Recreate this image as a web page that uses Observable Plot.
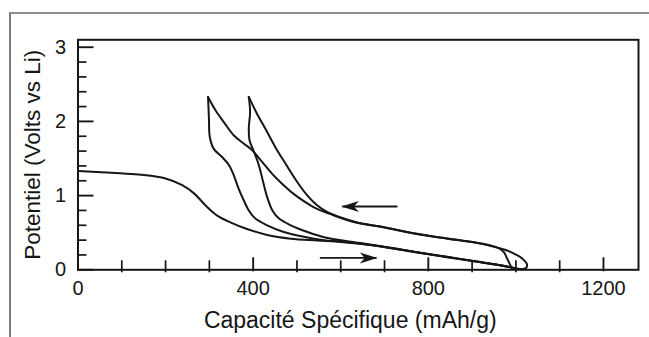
<!DOCTYPE html>
<html>
<head>
<meta charset="utf-8">
<script src="https://cdn.jsdelivr.net/npm/d3@7"></script>
<script src="https://cdn.jsdelivr.net/npm/@observablehq/plot@0.6"></script>
<style>
  html, body { margin: 0; padding: 0; background: #fff; }
  #fig { position: relative; width: 649px; height: 337px; overflow: hidden; background: #fff; }
  #cadre { position: absolute; left: 9px; top: 12px; width: 660px; height: 340px;
           border-left: 2px solid #7c7c7c; border-top: 2px solid #8e8e8e; }
  #fig svg { position: absolute; left: 0; top: 0; }
</style>
</head>
<body>
<div id="fig"><div id="cadre"></div></div>
<script>
// Cycles galvanostatiques : capacité spécifique (mAh/g) et potentiel (V vs Li)
const decharge1 = [[0,1.33],[97,1.30],[145,1.28],[200,1.23],[238,1.14],[265,1.03],[291,0.87],[318,0.73],
  [348,0.64],[386,0.55],[432,0.47],[486,0.42],[546,0.395],[600,0.375],[645,0.35],[706,0.30],[767,0.24],
  [843,0.17],[920,0.10],[965,0.058],[990,0.03],[1012,0.008]];
const charge1 = [[1012,0.008],[1024,0.03],[1025,0.08],[1015,0.15],[1000,0.205],[980,0.26],[962,0.29],
  [942,0.325],[904,0.37],[843,0.42],[767,0.49],[691,0.58],[640,0.63],[600,0.70],[577,0.75],[546,0.82],
  [520,0.91],[493,1.02],[466,1.16],[444,1.29],[421,1.45],[398,1.61],[379,1.70],[356,1.81],[333,1.99],
  [314,2.15],[297,2.33]];
const decharge2 = [[297,2.33],[299,2.04],[301,1.79],[310,1.63],[329,1.52],[345,1.41],[356,1.27],[367,1.09],
  [379,0.93],[390,0.80],[405,0.69],[432,0.60],[470,0.51],[516,0.445],[562,0.40],[600,0.38],[645,0.352],
  [706,0.302],[767,0.243],[843,0.172],[920,0.102],[965,0.06],[990,0.032]];
const charge2 = [[990,0.032],[985,0.09],[980,0.15],[973,0.235],[962,0.29],[942,0.328],[904,0.372],
  [843,0.423],[767,0.492],[691,0.583],[640,0.635],[600,0.705],[569,0.78],[546,0.87],[524,1.0],[501,1.18],
  [474,1.43],[451,1.65],[428,1.9],[409,2.10],[390,2.33]];
const decharge3 = [[390,2.33],[393,2.13],[390,1.9],[392,1.74],[402,1.59],[413,1.41],[423,1.18],[432,0.98],
  [444,0.80],[459,0.69],[486,0.60],[524,0.51],[562,0.44],[600,0.40],[645,0.36],[706,0.305],[767,0.245],
  [843,0.175],[920,0.105],[965,0.06],[1000,0.02]];

// Flèches indiquant le sens de la charge (←) et de la décharge (→)
const flecheCharge = [[728,0.853],[605,0.853]];
const flecheDecharge = [[554,0.16],[680,0.16]];

// Graduations
const xMajeures = [0, 400, 800, 1200];
const xMineures = [100, 200, 300, 500, 600, 700, 900, 1000, 1100];
const yMajeures = [0, 1, 2, 3];
const yMineures = [0.2, 0.4, 0.6, 0.8, 1.2, 1.4, 1.6, 1.8, 2.2, 2.4, 2.6, 2.8];

const titreX = "Capacité Spécifique (mAh/g)";
const titreY = "Potentiel (Volts vs Li)";

const courbes = [
  {serie: "décharge 1", points: decharge1},
  {serie: "charge 1", points: charge1},
  {serie: "décharge 2", points: decharge2},
  {serie: "charge 2", points: charge2},
  {serie: "décharge 3", points: decharge3}
];
const table = courbes.flatMap(c => c.points.map(([cap, pot]) => ({serie: c.serie, cap, pot})));

const W = 649, H = 337;
const mL = 77.5, mR = 11, mT = 39.3, mB = 67.7;
const largeur = W - mL - mR, hauteur = H - mT - mB;
const encre = "#161616";

// Pointe de flèche pleine, à dos creusé
function pointe(color) {
  const m = d3.create("svg:marker")
    .attr("viewBox", "-18 -8 20 16")
    .attr("markerWidth", 20).attr("markerHeight", 16)
    .attr("markerUnits", "userSpaceOnUse")
    .attr("refX", 0).attr("refY", 0)
    .attr("orient", "auto");
  m.append("path")
    .attr("d", "M1.5,0 L-16,-5.5 L-11,0 L-16,5.5 Z")
    .attr("fill", encre).attr("stroke", "none");
  return m.node();
}

const chart = Plot.plot({
  width: W, height: H,
  marginLeft: mL, marginRight: mR, marginTop: mT, marginBottom: mB,
  style: {fontFamily: "'Liberation Sans', Arial, Helvetica, sans-serif", color: encre, background: "transparent"},
  x: {domain: [0, 1280]},
  y: {domain: [0, 3.1]},
  marks: [
    Plot.frame({stroke: encre, strokeWidth: 2}),
    Plot.tickX(xMineures, {x: d => d, insetTop: hauteur - 9, insetBottom: -3, stroke: encre, strokeWidth: 1.7}),
    Plot.tickX(xMajeures.filter(d => d > 0), {x: d => d, insetTop: hauteur - 12, insetBottom: -2, stroke: encre, strokeWidth: 1.9}),
    Plot.tickY(yMineures, {y: d => d, insetRight: largeur - 9, stroke: encre, strokeWidth: 1.7}),
    Plot.tickY(yMajeures, {y: d => d, insetRight: largeur - 16, stroke: encre, strokeWidth: 1.9}),
    Plot.axisX({ticks: xMajeures, tickSize: 0, tickPadding: 11, fontSize: 20, label: null, tickFormat: d => String(d)}),
    Plot.axisY({ticks: yMajeures, tickSize: 0, tickPadding: 12, fontSize: 20, label: null, tickFormat: d => String(d)}),
    Plot.text([titreX], {text: d => d, frameAnchor: "bottom", textAnchor: "middle", lineAnchor: "middle",
      dx: -8, dy: 51, fontSize: 23, fill: encre}),
    Plot.text([titreY], {text: d => d, frameAnchor: "left", textAnchor: "middle", lineAnchor: "middle",
      dx: -45.5, rotate: -90, fontSize: 22.5, fill: encre}),
    Plot.line(table, {x: "cap", y: "pot", z: "serie", stroke: encre, strokeWidth: 2, curve: "catmull-rom"}),
    Plot.line(flecheCharge, {x: d => d[0], y: d => d[1], stroke: encre, strokeWidth: 1.8, markerEnd: pointe}),
    Plot.line(flecheDecharge, {x: d => d[0], y: d => d[1], stroke: encre, strokeWidth: 1.8, markerEnd: pointe})
  ]
});
document.getElementById("fig").appendChild(chart);
</script>
</body>
</html>
